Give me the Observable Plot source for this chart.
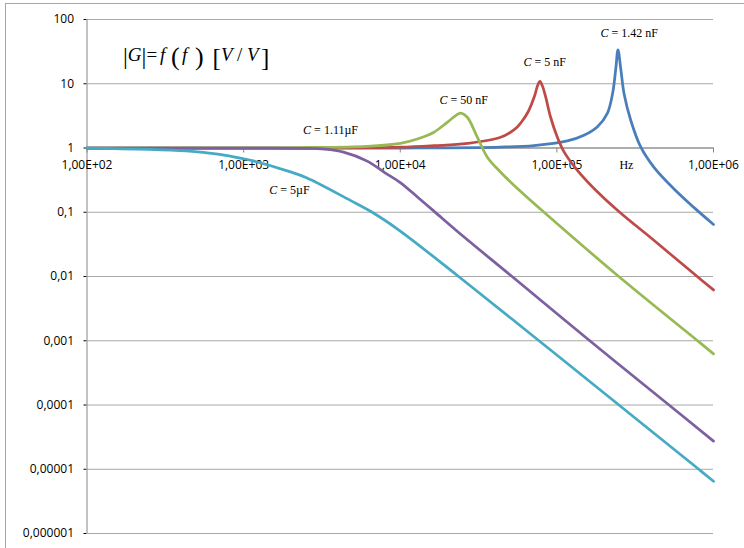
<!DOCTYPE html>
<html><head><meta charset="utf-8">
<script src="https://cdn.jsdelivr.net/npm/d3@7"></script>
<script src="https://cdn.jsdelivr.net/npm/@observablehq/plot@0.6"></script>
<style>
body{margin:0;width:744px;height:548px;overflow:hidden;background:#fff;position:relative}
#frame{position:absolute;left:5px;top:3px;width:800px;height:600px;border:1px solid #a6a6a6;box-sizing:border-box}
#chart{position:absolute;left:0;top:0}
#formula{position:absolute;left:0;top:0}
</style></head><body>
<div id="frame"></div>
<div id="chart"></div>
<svg id="formula" width="744" height="100" font-family="'Liberation Serif', serif" fill="#000">
  <text font-size="19"><tspan x="122.9" y="64" font-size="24">|</tspan><tspan x="127.7" y="61.3" font-style="italic">G</tspan><tspan x="141.4" y="64" font-size="24">|</tspan><tspan x="146.4" y="61.3">=</tspan><tspan x="160" y="61.3" font-style="italic">f</tspan><tspan x="171" y="65.3" font-size="26">(</tspan><tspan x="182" y="61.3" font-style="italic">f</tspan><tspan x="195" y="65.3" font-size="26">)</tspan><tspan x="212.5" y="66" font-size="25">[</tspan><tspan x="221" y="61.3" font-style="italic">V</tspan><tspan x="237" y="61.3">/</tspan><tspan x="247" y="61.3" font-style="italic">V</tspan><tspan x="261" y="66" font-size="25">]</tspan></text>
</svg>
<script>
// ---- axes ----
const xTicks = [1e2, 1e3, 1e4, 1e5, 1e6];
const xTickLabels = ["1,00E+02", "1,00E+03", "1,00E+04", "1,00E+05", "1,00E+06"];
const yTicks = [100, 10, 1, 0.1, 0.01, 0.001, 0.0001, 0.00001, 0.000001];
const yTickLabels = ["100", "10", "1", "0,1", "0,01", "0,001", "0,0001", "0,00001", "0,000001"];

// ---- series (frequency in Hz, |G| in V/V) ----
const freqBlue = [100, 10000, 43750, 71450, 116700, 148900, 181600, 210400, 226500, 237700, 245500, 255900, 268500, 296500, 343600, 416900, 559800, 751600, 1000000];
const gainBlue = [1, 1, 1.033, 1.093, 1.292, 1.58, 2.15, 3.5, 6.9, 17, 33.7, 17, 6.98, 2.68, 1.028, 0.5, 0.23, 0.118, 0.0646];

const freqRed = [100, 2307, 10000, 16410, 26790, 43750, 53700, 58750, 65310, 72110, 75340, 77980, 81100, 84720, 91200, 100700, 110900, 135200, 190500, 251800, 417800, 790700, 1000000];
const gainRed = [1, 1, 1.028, 1.086, 1.178, 1.47, 1.95, 2.45, 3.6, 6.5, 9.4, 10.84, 9.06, 6.31, 3.01, 1.47, 0.88, 0.45, 0.185, 0.1, 0.0363, 0.00989, 0.00618];

const freqGreen = [100, 1000, 2307, 6152, 10000, 12850, 16410, 19950, 23120, 24270, 26790, 31050, 35980, 43750, 58750, 82790, 249500, 790700, 1000000];
const gainGreen = [1, 1.005, 1.015, 1.06, 1.18, 1.38, 1.762, 2.512, 3.319, 3.483, 3.013, 1.472, 0.72, 0.42, 0.21, 0.1, 0.0099, 0.001, 0.000625];

const freqPurple = [100, 1000, 2307, 3300, 4345, 6152, 8000, 10000, 13150, 16410, 25000, 52000, 162200, 520000, 1000000];
const gainPurple = [1, 0.997, 0.99, 0.96, 0.861, 0.625, 0.41, 0.29, 0.165, 0.104, 0.043, 0.0099, 0.001, 0.0001, 0.0000274];

const freqCyan = [100, 430, 703, 1000, 1150, 1875, 2520, 4800, 6620, 10000, 23700, 76900, 249000, 809000, 1000000];
const gainCyan = [0.995, 0.9, 0.795, 0.679, 0.63, 0.445, 0.345, 0.153, 0.1, 0.051, 0.0099, 0.001, 0.0001, 0.0000099, 0.0000065];

// ---- annotations ----
const annText = ["C = 1.42 nF", "C = 5 nF", "C = 50 nF", "C = 1.11\u00b5F", "C = 5\u00b5F"];
const annFreq = [290000, 83600, 25400, 3590, 1960];
const annGain = [62, 21.6, 5.48, 1.87, 0.218];

const seriesColors = ["#4a7ebb", "#be4b48", "#98b954", "#7d60a0", "#46aac5"];

const toRows = (fs, gs) => fs.map((f, i) => ({f, g: gs[i]}));
const series = [
  toRows(freqBlue, gainBlue),
  toRows(freqRed, gainRed),
  toRows(freqGreen, gainGreen),
  toRows(freqPurple, gainPurple),
  toRows(freqCyan, gainCyan)
];
const xAxisRows = xTicks.map((f, i) => ({f, g: 1, label: xTickLabels[i]}));
const annRows = annText.map((t, i) => ({t, f: annFreq[i], g: annGain[i]}));
const yLabelMap = new Map(yTicks.map((v, i) => [v, yTickLabels[i]]));

const chart = Plot.plot({
  width: 744,
  height: 548,
  marginLeft: 86.5,
  marginRight: 31,
  marginTop: 19,
  marginBottom: 15,
  style: {fontFamily: "'Open Sans', sans-serif", fontSize: "12px", color: "#000", background: "transparent"},
  x: {type: "log", domain: [1e2, 1e6], axis: null},
  y: {type: "log", domain: [1e-6, 100], ticks: yTicks, tickFormat: d => yLabelMap.get(d) ?? "", tickSize: 3, tickPadding: 10, label: null},
  marks: [
    Plot.ruleY(yTicks, {stroke: "#a8a8a8", strokeWidth: 1}),
    Plot.ruleX([1e2], {stroke: "#868686", strokeWidth: 1}),
    Plot.ruleY([1], {stroke: "#868686", strokeWidth: 1}),
    Plot.ruleX(xAxisRows, {x: "f", y1: "g", y2: "g", insetBottom: -5, stroke: "#868686", strokeWidth: 1}),
    Plot.text(xAxisRows, {x: "f", y: "g", text: "label", dy: 17, fill: "#000"}),
    Plot.text([{f: 278000, g: 1, t: "Hz"}], {x: "f", y: "g", text: "t", dy: 17, fontFamily: "'Liberation Serif', serif", fontSize: 12, fill: "#000"}),
    ...series.map((rows, i) => Plot.line(rows, {x: "f", y: "g", stroke: seriesColors[i], strokeWidth: 2.75, curve: "catmull-rom"})),
    Plot.text(annRows, {x: "f", y: "g", text: "t", fontFamily: "'Liberation Serif', serif", fontSize: 12, fill: "#000"})
  ]
});
document.getElementById("chart").appendChild(chart);

// italic "C" in the annotations
const ns = "http://www.w3.org/2000/svg";
chart.querySelectorAll("text").forEach(t => {
  const s = t.textContent;
  if (s.startsWith("C =")) {
    t.textContent = "";
    const c = document.createElementNS(ns, "tspan");
    c.setAttribute("font-style", "italic");
    c.textContent = "C";
    t.appendChild(c);
    t.appendChild(document.createTextNode(s.slice(1)));
  }
});
</script></body></html>
